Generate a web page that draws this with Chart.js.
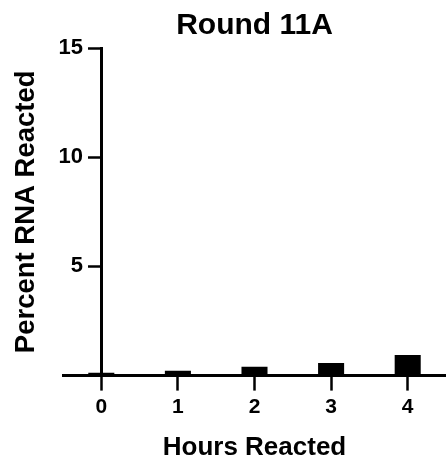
<!DOCTYPE html>
<html>
<head>
<meta charset="utf-8">
<script src="https://cdn.jsdelivr.net/npm/chart.js@4/dist/chart.umd.min.js"></script>
<style>
  html, body { margin: 0; padding: 0; background: #fff; }
  #wrap { width: 446px; height: 465px; position: relative; }
</style>
</head>
<body>
<div id="wrap"><canvas id="chart"></canvas></div>
<script>
  // Round 11A: percent of RNA reacted per hour
  const hours = ["0", "1", "2", "3", "4"];
  const percentReacted = [0.13, 0.22, 0.41, 0.58, 0.94];
  const yTicks = [5, 10, 15];

  const FONT = "'Liberation Sans', Arial, Helvetica, sans-serif";

  const ctx = document.getElementById("chart").getContext("2d");
  new Chart(ctx, {
    type: "bar",
    data: {
      labels: hours,
      datasets: [
        {
          label: "Percent RNA Reacted",
          data: percentReacted,
          backgroundColor: "#000",
          borderWidth: 0,
          barPercentage: 0.34,
          categoryPercentage: 1,
        },
      ],
    },
    options: {
      responsive: true,
      maintainAspectRatio: false,
      animation: false,
      layout: { padding: 0 },
      plugins: {
        legend: { display: false },
        tooltip: { enabled: false },
        title: {
          display: true,
          text: "Round 11A",
          color: "#000",
          fullSize: false,
          font: { family: FONT, size: 30, weight: "bold" },
          padding: { top: 8, bottom: 4 },
        },
      },
      scales: {
        x: {
          type: "category",
          offset: true,
          grid: {
            offset: false,
            drawOnChartArea: false,
            drawTicks: true,
            tickLength: 15,
            tickWidth: 2.5,
            tickColor: "#000",
          },
          border: { display: true, color: "#000", width: 3 },
          ticks: {
            color: "#000",
            padding: 4,
            font: { family: FONT, size: 21, weight: "bold" },
          },
          title: {
            display: true,
            text: "Hours Reacted",
            color: "#000",
            font: { family: FONT, size: 26, weight: "bold" },
            padding: { top: 8, bottom: 2 },
          },
        },
        // value axis sits on the "0 hours" category, like the original plot
        y: {
          axis: "y",
          position: { x: 0 },
          min: 0,
          max: 15,
          afterBuildTicks: (scale) => {
            scale.ticks = yTicks.map((v) => ({ value: v }));
          },
          grid: {
            drawOnChartArea: false,
            drawTicks: true,
            tickLength: 12,
            tickWidth: 2.5,
            tickColor: "#000",
          },
          border: { display: true, color: "#000", width: 3 },
          ticks: {
            color: "#000",
            font: { family: FONT, size: 22, weight: "bold" },
            // labels are right-aligned on the axis line itself when the
            // axis is placed by value, so pad them away from the tick marks
            callback: (value) => value + "   ",
          },
        },
        // empty axis that only carries the y title at the left edge
        yTitle: {
          axis: "y",
          position: "left",
          grid: { display: false, drawTicks: false },
          border: { display: false },
          ticks: { display: false },
          title: {
            display: true,
            text: "Percent RNA Reacted",
            color: "#000",
            font: { family: FONT, size: 27.5, weight: "bold" },
            padding: { top: 10, bottom: 20 },
          },
        },
      },
    },
  });
</script>
</body>
</html>
